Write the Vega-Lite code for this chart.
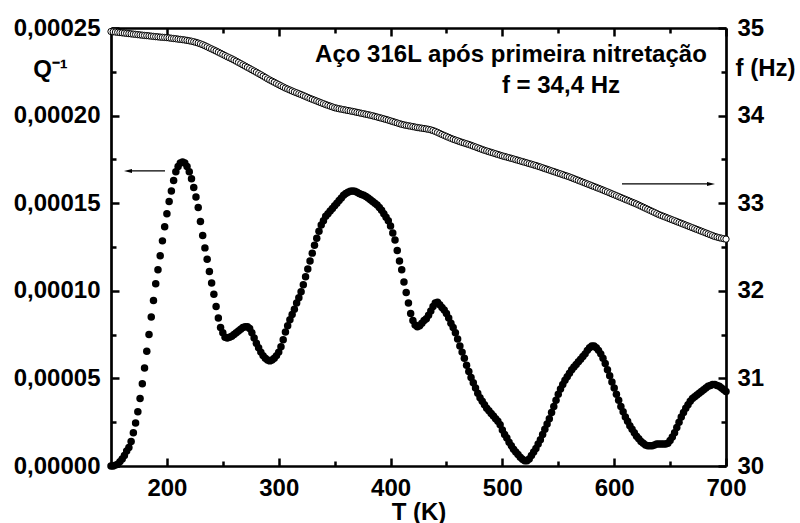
{
"$schema": "https://vega.github.io/schema/vega-lite/v6.json",
"width": 615, "height": 438,
"autosize": {"type": "none"},
"padding": {"left": 111, "top": 28, "right": 74, "bottom": 57},
"background": "white",
"config": {
  "view": {"stroke": null},
  "font": "Liberation Sans",
  "axis": {"domainColor": "black", "domainWidth": 2.7, "tickColor": "black", "tickWidth": 2.5, "ticks": true,
    "labelFont": "Liberation Sans", "labelFontSize": 24, "labelFontWeight": "bold", "labelColor": "black",
    "titleFont": "Liberation Sans", "titleFontSize": 24, "titleFontWeight": "bold", "titleColor": "black",
    "grid": false, "labelOverlap": false, "labelFlush": false, "zindex": 1}
},
"datasets": {
"meas": [
{"T":150,"Q":0,"f":34.96},{"T":152,"Q":0,"f":34.957},{"T":154,"Q":0.05e-5,"f":34.954},{"T":156,"Q":0.1e-5,"f":34.951},{"T":158,"Q":0.25e-5,"f":34.948},
{"T":160,"Q":0.4e-5,"f":34.945},{"T":162,"Q":0.6e-5,"f":34.942},{"T":164,"Q":0.85e-5,"f":34.939},{"T":166,"Q":1.05e-5,"f":34.936},{"T":168,"Q":1.4e-5,"f":34.933},
{"T":170,"Q":1.9e-5,"f":34.93},{"T":172,"Q":2.45e-5,"f":34.927},{"T":174,"Q":3.1e-5,"f":34.924},{"T":176,"Q":3.85e-5,"f":34.921},{"T":178,"Q":4.7e-5,"f":34.918},
{"T":180,"Q":5.6e-5,"f":34.915},{"T":182,"Q":6.55e-5,"f":34.913},{"T":184,"Q":7.5e-5,"f":34.91},{"T":186,"Q":8.5e-5,"f":34.907},{"T":188,"Q":9.45e-5,"f":34.904},
{"T":190,"Q":10.4e-5,"f":34.901},{"T":192,"Q":11.2e-5,"f":34.899},{"T":194,"Q":12.0e-5,"f":34.896},{"T":196,"Q":12.85e-5,"f":34.894},{"T":198,"Q":13.65e-5,"f":34.892},
{"T":200,"Q":14.4e-5,"f":34.89},{"T":202,"Q":15.1e-5,"f":34.887},{"T":204,"Q":15.7e-5,"f":34.883},{"T":206,"Q":16.3e-5,"f":34.88},{"T":208,"Q":16.8e-5,"f":34.877},
{"T":210,"Q":17.1e-5,"f":34.873},{"T":212,"Q":17.3e-5,"f":34.87},{"T":214,"Q":17.35e-5,"f":34.867},{"T":216,"Q":17.3e-5,"f":34.863},{"T":218,"Q":17.1e-5,"f":34.859},
{"T":220,"Q":16.8e-5,"f":34.854},{"T":222,"Q":16.4e-5,"f":34.849},{"T":224,"Q":15.9e-5,"f":34.843},{"T":226,"Q":15.35e-5,"f":34.836},{"T":228,"Q":14.75e-5,"f":34.828},
{"T":230,"Q":13.95e-5,"f":34.819},{"T":232,"Q":13.15e-5,"f":34.809},{"T":234,"Q":12.45e-5,"f":34.798},{"T":236,"Q":11.8e-5,"f":34.786},{"T":238,"Q":11.1e-5,"f":34.773},
{"T":240,"Q":10.45e-5,"f":34.761},{"T":242,"Q":9.8e-5,"f":34.749},{"T":244,"Q":9.1e-5,"f":34.737},{"T":246,"Q":8.45e-5,"f":34.724},{"T":248,"Q":7.9e-5,"f":34.711},
{"T":250,"Q":7.6e-5,"f":34.698},{"T":252,"Q":7.35e-5,"f":34.685},{"T":254,"Q":7.3e-5,"f":34.672},{"T":256,"Q":7.35e-5,"f":34.66},{"T":258,"Q":7.4e-5,"f":34.648},
{"T":260,"Q":7.5e-5,"f":34.635},{"T":262,"Q":7.6e-5,"f":34.621},{"T":264,"Q":7.7e-5,"f":34.607},{"T":266,"Q":7.8e-5,"f":34.593},{"T":268,"Q":7.9e-5,"f":34.579},
{"T":270,"Q":7.95e-5,"f":34.565},{"T":272,"Q":7.95e-5,"f":34.551},{"T":274,"Q":7.85e-5,"f":34.537},{"T":276,"Q":7.6e-5,"f":34.523},{"T":278,"Q":7.3e-5,"f":34.509},
{"T":280,"Q":7.0e-5,"f":34.495},{"T":282,"Q":6.75e-5,"f":34.48},{"T":284,"Q":6.5e-5,"f":34.466},{"T":286,"Q":6.3e-5,"f":34.451},{"T":288,"Q":6.15e-5,"f":34.436},
{"T":290,"Q":6.05e-5,"f":34.42},{"T":292,"Q":6.0e-5,"f":34.406},{"T":294,"Q":6.05e-5,"f":34.393},{"T":296,"Q":6.15e-5,"f":34.38},{"T":298,"Q":6.3e-5,"f":34.366},
{"T":300,"Q":6.5e-5,"f":34.353},{"T":302,"Q":6.8e-5,"f":34.34},{"T":304,"Q":7.2e-5,"f":34.327},{"T":306,"Q":7.65e-5,"f":34.314},{"T":308,"Q":8.0e-5,"f":34.303},
{"T":310,"Q":8.35e-5,"f":34.292},{"T":312,"Q":8.65e-5,"f":34.281},{"T":314,"Q":8.95e-5,"f":34.27},{"T":316,"Q":9.3e-5,"f":34.26},{"T":318,"Q":9.6e-5,"f":34.25},
{"T":320,"Q":9.95e-5,"f":34.24},{"T":322,"Q":10.35e-5,"f":34.229},{"T":324,"Q":10.8e-5,"f":34.218},{"T":326,"Q":11.25e-5,"f":34.207},{"T":328,"Q":11.7e-5,"f":34.196},
{"T":330,"Q":12.15e-5,"f":34.186},{"T":332,"Q":12.6e-5,"f":34.176},{"T":334,"Q":13.0e-5,"f":34.166},{"T":336,"Q":13.4e-5,"f":34.156},{"T":338,"Q":13.75e-5,"f":34.146},
{"T":340,"Q":14.0e-5,"f":34.136},{"T":342,"Q":14.25e-5,"f":34.126},{"T":344,"Q":14.4e-5,"f":34.117},{"T":346,"Q":14.55e-5,"f":34.108},{"T":348,"Q":14.7e-5,"f":34.099},
{"T":350,"Q":14.85e-5,"f":34.09},{"T":352,"Q":15.0e-5,"f":34.084},{"T":354,"Q":15.15e-5,"f":34.078},{"T":356,"Q":15.3e-5,"f":34.073},{"T":358,"Q":15.45e-5,"f":34.068},
{"T":360,"Q":15.55e-5,"f":34.063},{"T":362,"Q":15.62e-5,"f":34.058},{"T":364,"Q":15.68e-5,"f":34.053},{"T":366,"Q":15.7e-5,"f":34.048},{"T":368,"Q":15.68e-5,"f":34.043},
{"T":370,"Q":15.62e-5,"f":34.037},{"T":372,"Q":15.55e-5,"f":34.032},{"T":374,"Q":15.5e-5,"f":34.026},{"T":376,"Q":15.45e-5,"f":34.021},{"T":378,"Q":15.38e-5,"f":34.015},
{"T":380,"Q":15.3e-5,"f":34.01},{"T":382,"Q":15.2e-5,"f":34.004},{"T":384,"Q":15.1e-5,"f":33.998},{"T":386,"Q":15.0e-5,"f":33.991},{"T":388,"Q":14.9e-5,"f":33.984},
{"T":390,"Q":14.75e-5,"f":33.977},{"T":392,"Q":14.6e-5,"f":33.97},{"T":394,"Q":14.4e-5,"f":33.963},{"T":396,"Q":14.2e-5,"f":33.956},{"T":398,"Q":14.0e-5,"f":33.948},
{"T":400,"Q":13.7e-5,"f":33.94},{"T":402,"Q":13.3e-5,"f":33.932},{"T":404,"Q":12.9e-5,"f":33.924},{"T":406,"Q":12.3e-5,"f":33.916},{"T":408,"Q":11.7e-5,"f":33.908},
{"T":410,"Q":11.2e-5,"f":33.9},{"T":412,"Q":10.5e-5,"f":33.894},{"T":414,"Q":9.9e-5,"f":33.889},{"T":416,"Q":9.3e-5,"f":33.884},{"T":418,"Q":8.7e-5,"f":33.879},
{"T":420,"Q":8.3e-5,"f":33.874},{"T":422,"Q":8.05e-5,"f":33.869},{"T":424,"Q":7.95e-5,"f":33.864},{"T":426,"Q":8.0e-5,"f":33.86},{"T":428,"Q":8.15e-5,"f":33.856},
{"T":430,"Q":8.3e-5,"f":33.852},{"T":432,"Q":8.4e-5,"f":33.848},{"T":434,"Q":8.6e-5,"f":33.843},{"T":436,"Q":8.85e-5,"f":33.837},{"T":438,"Q":9.1e-5,"f":33.829},
{"T":440,"Q":9.3e-5,"f":33.819},{"T":442,"Q":9.35e-5,"f":33.808},{"T":444,"Q":9.2e-5,"f":33.796},{"T":446,"Q":9.05e-5,"f":33.784},{"T":448,"Q":8.9e-5,"f":33.773},
{"T":450,"Q":8.7e-5,"f":33.762},{"T":452,"Q":8.45e-5,"f":33.751},{"T":454,"Q":8.15e-5,"f":33.74},{"T":456,"Q":7.9e-5,"f":33.73},{"T":458,"Q":7.6e-5,"f":33.721},
{"T":460,"Q":7.25e-5,"f":33.712},{"T":462,"Q":6.85e-5,"f":33.703},{"T":464,"Q":6.5e-5,"f":33.694},{"T":466,"Q":6.15e-5,"f":33.686},{"T":468,"Q":5.75e-5,"f":33.678},
{"T":470,"Q":5.4e-5,"f":33.67},{"T":472,"Q":5.05e-5,"f":33.661},{"T":474,"Q":4.75e-5,"f":33.651},{"T":476,"Q":4.45e-5,"f":33.642},{"T":478,"Q":4.15e-5,"f":33.632},
{"T":480,"Q":3.9e-5,"f":33.623},{"T":482,"Q":3.7e-5,"f":33.613},{"T":484,"Q":3.5e-5,"f":33.604},{"T":486,"Q":3.3e-5,"f":33.596},{"T":488,"Q":3.15e-5,"f":33.588},
{"T":490,"Q":3.0e-5,"f":33.58},{"T":492,"Q":2.85e-5,"f":33.572},{"T":494,"Q":2.7e-5,"f":33.564},{"T":496,"Q":2.55e-5,"f":33.556},{"T":498,"Q":2.35e-5,"f":33.548},
{"T":500,"Q":2.05e-5,"f":33.54},{"T":502,"Q":1.8e-5,"f":33.533},{"T":504,"Q":1.6e-5,"f":33.526},{"T":506,"Q":1.35e-5,"f":33.519},{"T":508,"Q":1.15e-5,"f":33.512},
{"T":510,"Q":0.95e-5,"f":33.505},{"T":512,"Q":0.8e-5,"f":33.497},{"T":514,"Q":0.65e-5,"f":33.49},{"T":516,"Q":0.5e-5,"f":33.482},{"T":518,"Q":0.38e-5,"f":33.475},
{"T":520,"Q":0.3e-5,"f":33.467},{"T":522,"Q":0.3e-5,"f":33.46},{"T":524,"Q":0.4e-5,"f":33.452},{"T":526,"Q":0.6e-5,"f":33.445},{"T":528,"Q":0.8e-5,"f":33.437},
{"T":530,"Q":1.0e-5,"f":33.43},{"T":532,"Q":1.25e-5,"f":33.421},{"T":534,"Q":1.5e-5,"f":33.413},{"T":536,"Q":1.8e-5,"f":33.404},{"T":538,"Q":2.1e-5,"f":33.395},
{"T":540,"Q":2.4e-5,"f":33.387},{"T":542,"Q":2.7e-5,"f":33.378},{"T":544,"Q":3.05e-5,"f":33.369},{"T":546,"Q":3.4e-5,"f":33.361},{"T":548,"Q":3.75e-5,"f":33.352},
{"T":550,"Q":4.1e-5,"f":33.343},{"T":552,"Q":4.4e-5,"f":33.335},{"T":554,"Q":4.65e-5,"f":33.326},{"T":556,"Q":4.9e-5,"f":33.317},{"T":558,"Q":5.1e-5,"f":33.309},
{"T":560,"Q":5.3e-5,"f":33.3},{"T":562,"Q":5.5e-5,"f":33.29},{"T":564,"Q":5.65e-5,"f":33.28},{"T":566,"Q":5.8e-5,"f":33.27},{"T":568,"Q":5.95e-5,"f":33.26},
{"T":570,"Q":6.1e-5,"f":33.25},{"T":572,"Q":6.25e-5,"f":33.24},{"T":574,"Q":6.4e-5,"f":33.23},{"T":576,"Q":6.6e-5,"f":33.22},{"T":578,"Q":6.75e-5,"f":33.21},
{"T":580,"Q":6.85e-5,"f":33.2},{"T":582,"Q":6.85e-5,"f":33.19},{"T":584,"Q":6.75e-5,"f":33.18},{"T":586,"Q":6.6e-5,"f":33.17},{"T":588,"Q":6.4e-5,"f":33.16},
{"T":590,"Q":6.15e-5,"f":33.15},{"T":592,"Q":5.85e-5,"f":33.139},{"T":594,"Q":5.5e-5,"f":33.129},{"T":596,"Q":5.15e-5,"f":33.118},{"T":598,"Q":4.8e-5,"f":33.107},
{"T":600,"Q":4.45e-5,"f":33.097},{"T":602,"Q":4.1e-5,"f":33.086},{"T":604,"Q":3.75e-5,"f":33.075},{"T":606,"Q":3.4e-5,"f":33.065},{"T":608,"Q":3.1e-5,"f":33.054},
{"T":610,"Q":2.8e-5,"f":33.043},{"T":612,"Q":2.55e-5,"f":33.033},{"T":614,"Q":2.3e-5,"f":33.022},{"T":616,"Q":2.1e-5,"f":33.011},{"T":618,"Q":1.9e-5,"f":33.001},
{"T":620,"Q":1.7e-5,"f":32.99},{"T":622,"Q":1.55e-5,"f":32.978},{"T":624,"Q":1.4e-5,"f":32.966},{"T":626,"Q":1.3e-5,"f":32.954},{"T":628,"Q":1.2e-5,"f":32.942},
{"T":630,"Q":1.15e-5,"f":32.93},{"T":632,"Q":1.15e-5,"f":32.918},{"T":634,"Q":1.15e-5,"f":32.906},{"T":636,"Q":1.2e-5,"f":32.894},{"T":638,"Q":1.25e-5,"f":32.882},
{"T":640,"Q":1.25e-5,"f":32.87},{"T":642,"Q":1.25e-5,"f":32.86},{"T":644,"Q":1.25e-5,"f":32.85},{"T":646,"Q":1.25e-5,"f":32.84},{"T":648,"Q":1.3e-5,"f":32.83},
{"T":650,"Q":1.45e-5,"f":32.82},{"T":652,"Q":1.65e-5,"f":32.81},{"T":654,"Q":1.9e-5,"f":32.8},{"T":656,"Q":2.2e-5,"f":32.79},{"T":658,"Q":2.5e-5,"f":32.78},
{"T":660,"Q":2.8e-5,"f":32.77},{"T":662,"Q":3.05e-5,"f":32.76},{"T":664,"Q":3.3e-5,"f":32.75},{"T":666,"Q":3.5e-5,"f":32.74},{"T":668,"Q":3.7e-5,"f":32.73},
{"T":670,"Q":3.85e-5,"f":32.72},{"T":672,"Q":3.95e-5,"f":32.71},{"T":674,"Q":4.05e-5,"f":32.7},{"T":676,"Q":4.15e-5,"f":32.69},{"T":678,"Q":4.25e-5,"f":32.68},
{"T":680,"Q":4.35e-5,"f":32.67},{"T":682,"Q":4.45e-5,"f":32.66},{"T":684,"Q":4.55e-5,"f":32.65},{"T":686,"Q":4.6e-5,"f":32.64},{"T":688,"Q":4.65e-5,"f":32.63},
{"T":690,"Q":4.65e-5,"f":32.62},{"T":692,"Q":4.6e-5,"f":32.613},{"T":694,"Q":4.55e-5,"f":32.606},{"T":696,"Q":4.45e-5,"f":32.6},{"T":698,"Q":4.35e-5,"f":32.595},
{"T":700,"Q":4.25e-5,"f":32.59}
],
"notes": [
{"T":507.7,"Q":23.06e-5,"label":"Aço 316L após primeira nitretação"},
{"T":552.4,"Q":21.29e-5,"label":"f = 34,4 Hz"}
],
"arrows": [
{"T":198.3,"T2":165.2,"Q":16.84e-5,"dir":"left"},
{"T":607,"T2":686.6,"Q":16.1e-5,"dir":"right"}
]
},
"layer": [
 {"data": {"name": "meas"},
  "mark": {"type": "point", "filled": true, "color": "black", "size": 56, "opacity": 1},
  "encoding": {
    "x": {"field": "T", "type": "quantitative",
      "scale": {"domain": [150, 700], "nice": false, "zero": false},
      "axis": {"orient": "bottom", "values": [200,300,400,500,600,700], "tickSize": -8,
        "format": "d", "labelPadding": 18, "title": "T (K)", "titlePadding": 0}},
    "y": {"field": "Q", "type": "quantitative",
      "scale": {"domain": [0, 0.00025], "nice": false},
      "axis": {"orient": "left", "values": [0,0.00005,0.0001,0.00015,0.0002,0.00025], "tickSize": -8,
        "labelExpr": "replace(format(datum.value, '.5f'), '.', ',')",
        "labelPadding": 19,
        "title": "Q⁻¹", "titleAngle": 0, "titleX": -61, "titleY": 48, "titleAlign": "center", "titleBaseline": "alphabetic"}}
  }},
 {"data": {"name": "notes"},
  "mark": {"type": "text", "font": "Liberation Sans", "fontSize": 24, "fontWeight": "bold", "color": "black", "align": "center", "baseline": "alphabetic"},
  "encoding": {
    "x": {"field": "T", "type": "quantitative",
      "axis": {"orient": "bottom", "values": [250,350,450,550,650], "tickSize": -5, "labels": false, "domain": false, "title": null}},
    "y": {"field": "Q", "type": "quantitative", "scale": {"domain": [0, 0.00025], "nice": false},
      "axis": {"orient": "left", "values": [0.000025,0.000075,0.000125,0.000175,0.000225], "tickSize": -5, "labels": false, "domain": false, "title": null}},
    "text": {"field": "label"}
  }},
 {"data": {"name": "arrows"},
  "mark": {"type": "rule", "color": "black", "strokeWidth": 1.3},
  "encoding": {
    "x": {"field": "T", "type": "quantitative",
      "axis": {"orient": "top", "values": [250,350,450,550,650], "tickSize": -5, "labels": false, "domain": false, "title": null}},
    "x2": {"field": "T2"},
    "y": {"field": "Q", "type": "quantitative", "scale": {"domain": [0, 0.00025], "nice": false},
      "axis": {"orient": "right", "values": [0.000025,0.000075,0.000125,0.000175,0.000225], "tickSize": -5, "labels": false, "domain": false, "title": null}}
  }},
 {"data": {"name": "arrows"},
  "mark": {"type": "point", "filled": true, "color": "black", "size": 64, "opacity": 1},
  "encoding": {
    "x": {"field": "T2", "type": "quantitative", "axis": null},
    "y": {"field": "Q", "type": "quantitative", "scale": {"domain": [0, 0.00025], "nice": false}, "axis": null},
    "shape": {"field": "dir", "type": "nominal", "legend": null,
      "scale": {"domain": ["left", "right"], "range": ["M-1,0L1,-0.5L1,0.5Z", "M1,0L-1,-0.5L-1,0.5Z"]}}
  }},
 {"data": {"name": "meas"},
  "mark": {"type": "point", "filled": true, "fill": "white", "stroke": "black", "strokeWidth": 1, "size": 40, "opacity": 1},
  "encoding": {
    "x": {"field": "T", "type": "quantitative",
      "axis": {"orient": "top", "values": [200,300,400,500,600,700], "tickSize": -8, "labels": false, "title": null}},
    "y": {"field": "f", "type": "quantitative",
      "scale": {"domain": [30, 35], "nice": false, "zero": false},
      "axis": {"orient": "right", "values": [30,31,32,33,34,35], "tickSize": -8, "format": "d",
        "labelPadding": 19,
        "title": "f (Hz)", "titleAngle": 0, "titleX": 39, "titleY": 47, "titleAlign": "center", "titleBaseline": "alphabetic"}}
  }}
],
"resolve": {"scale": {"y": "independent"}, "axis": {"x": "independent", "y": "independent"}}
}
